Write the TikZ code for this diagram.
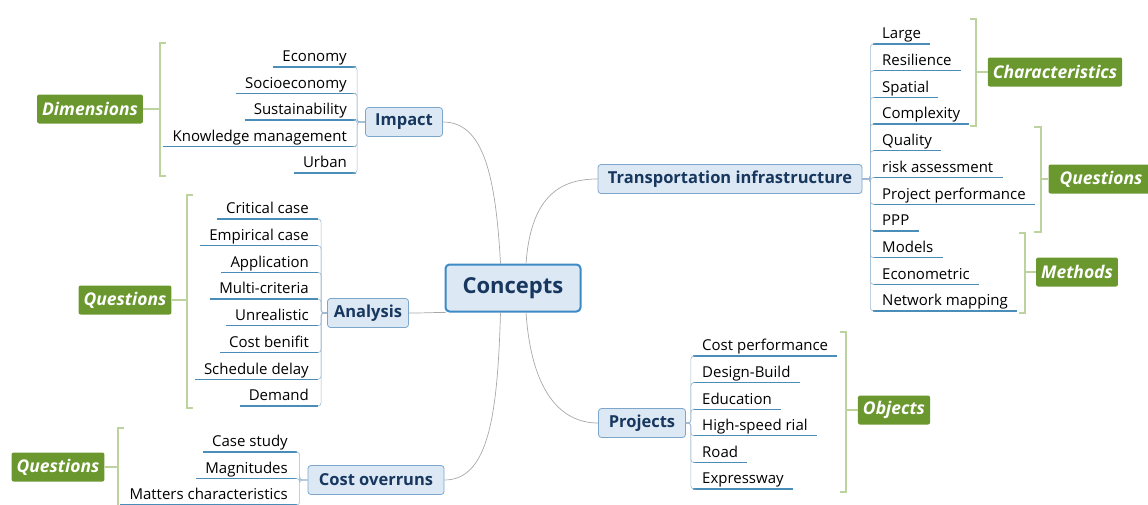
\documentclass[tikz,border=0pt]{standalone}
\usepackage{fontspec}
\setmainfont{Open Sans}
\usetikzlibrary{positioning}
\definecolor{topicfill}{HTML}{DCE8F4}
\definecolor{topicline}{HTML}{7DA6CC}
\definecolor{topictext}{HTML}{17375E}
\definecolor{rootline}{HTML}{3D8BC6}
\definecolor{leafline}{HTML}{4A8DB8}
\definecolor{tagfill}{HTML}{6A982E}
\definecolor{bracketcol}{HTML}{BCD3A0}
\definecolor{twigcol}{HTML}{9DB8CF}
\definecolor{curvecol}{HTML}{A8A8A8}
\tikzset{
	root/.style={draw=rootline, line width=2pt, fill=topicfill, rounded corners=4pt,
		minimum width=135pt, minimum height=47pt, text=topictext,
		font=\fontsize{22}{26}\selectfont\bfseries},
	topic/.style={draw=topicline, line width=0.8pt, fill=topicfill, rounded corners=3pt,
		minimum height=29pt, inner xsep=5pt, text=topictext,
		font=\fontsize{16.5}{20}\selectfont\bfseries},
	leaf/.style={inner xsep=9pt, inner ysep=2pt, text height=11pt, text depth=3pt,
		font=\fontsize{15}{18}\selectfont},
	uline/.style={draw=leafline, line width=1.3pt},
	twig/.style={draw=twigcol, line width=0.6pt, rounded corners=3pt},
	branch/.style={draw=curvecol, line width=0.7pt},
	tag/.style={fill=tagfill, rounded corners=2pt, minimum height=29pt, inner xsep=5pt,
		text=white, font=\fontsize{17.5}{20}\selectfont\bfseries\itshape},
	bracket/.style={draw=bracketcol, line width=1.6pt}
}

\begin{document}
\begin{tikzpicture}[x=1pt, y=-1pt]
	%\draw[help lines] (0,0) grid (1148,504);
	\clip (0,0) rectangle (1148,504);

	\node[root] (con) at (513,288) {Concepts};

	\node[topic, minimum width=77pt] (imp) at (404,122) {Impact};
	\node[topic, minimum width=81pt] (ana) at (368,313) {Analysis};
	\node[topic, minimum width=136pt] (cov) at (376,480) {Cost overruns};
	\node[topic, minimum width=264pt] (tra) at (730,179) {Transportation infrastructure};
	\node[topic, minimum width=87pt] (pro) at (642,423) {Projects};

	\draw[branch] (con.117) .. controls +(-5,-90) and +(40,0) .. (imp.east);
	\draw[branch] (con.200) .. controls +(-20,0) and +(20,0) .. (ana.east);
	\draw[branch] (con.-117) .. controls +(-3,100) and +(45,0) .. (cov.east);
	\draw[branch] (con.62) .. controls +(5,-70) and +(-35,0) .. (tra.west);
	\draw[branch] (con.-62) .. controls +(5,75) and +(-40,0) .. (pro.west);

	% Impact
	\foreach \t [count=\i] in {Economy,Socioeconomy,Sustainability,Knowledge management,Urban}{
		\node[leaf, anchor=south east] (imp\i) at (356,{67+26.5*(\i-1)}) {\t};
		\draw[uline] (imp\i.south west) -- (imp\i.south east);
		\draw[twig] (imp.west) -- ++(-8,0) |- (imp\i.south east);
	}
	\node[tag] (dim) at (90,109) {Dimensions};
	\coordinate (dimb) at (160,109);
	\draw[bracket] (166,43) -- (160,43) -- (160,176) -- (166,176);
	\draw[bracket] (dim) -- (dimb);

	% Analysis
	\foreach \t [count=\i] in {Critical case,Empirical case,Application,Multi-criteria,Unrealistic,Cost benifit,Schedule delay,Demand}{
		\node[leaf, anchor=south east] (ana\i) at (318,{219+26.7*(\i-1)}) {\t};
		\draw[uline] (ana\i.south west) -- (ana\i.south east);
		\draw[twig] (ana.west) -- ++(-6,0) |- (ana\i.south east);
	}
	\node[tag] (anq) at (125,300) {Questions};
	\coordinate (anqb) at (187,300);
	\draw[bracket] (193,195) -- (187,195) -- (187,408) -- (193,408);
	\draw[bracket] (anq) -- (anqb);

	% Cost overruns
	\foreach \t [count=\i] in {Case study,Magnitudes,Matters characteristics}{
		\node[leaf, anchor=south east] (cov\i) at (297,{452+26.5*(\i-1)}) {\t};
		\draw[uline] (cov\i.south west) -- (cov\i.south east);
		\draw[twig] (cov.west) -- ++(-8,0) |- (cov\i.south east);
	}
	\node[tag] (coq) at (58,467) {Questions};
	\coordinate (coqb) at (118,467);
	\draw[bracket] (124,428) -- (118,428) -- (118,520);
	\draw[bracket] (coq) -- (coqb);

	% Transportation infrastructure
	\foreach \t [count=\i] in {Large,Resilience,Spatial,Complexity,Quality,risk assessment,Project performance,PPP,Models,Econometric,Network mapping}{
		\node[leaf, anchor=south west] (tra\i) at (873,{44+26.7*(\i-1)}) {\t};
		\draw[uline] (tra\i.south west) -- (tra\i.south east);
		\draw[twig] (tra.east) -- ++(8,0) |- (tra\i.south west);
	}
	\node[tag] (chr) at (1055,72) {Characteristics};
	\coordinate (chrb) at (976,72);
	\draw[bracket] (970,19) -- (976,19) -- (976,126) -- (970,126);
	\draw[bracket] (chrb) -- (chr);

	\node[tag, minimum width=105pt] (trq) at (1101,179) {Questions};
	\coordinate (trqb) at (1041,179);
	\draw[bracket] (1034,127) -- (1041,127) -- (1041,232) -- (1034,232);
	\draw[bracket] (trqb) -- (trq);

	\node[tag] (met) at (1077,272) {Methods};
	\coordinate (metb) at (1025,272);
	\draw[bracket] (1019,233) -- (1025,233) -- (1025,313) -- (1019,313);
	\draw[bracket] (metb) -- (met);

	% Projects
	\foreach \t [count=\i] in {Cost performance,Design-Build,Education,High-speed rial,Road,Expressway}{
		\node[leaf, anchor=south west] (pro\i) at (693,{356+26.6*(\i-1)}) {\t};
		\draw[uline] (pro\i.south west) -- (pro\i.south east);
		\draw[twig] (pro.east) -- ++(5,0) |- (pro\i.south west);
	}
	\node[tag] (obj) at (894,410) {Objects};
	\coordinate (objb) at (846,410);
	\draw[bracket] (840,332) -- (846,332) -- (846,492) -- (840,492);
	\draw[bracket] (objb) -- (obj);

\end{tikzpicture}
\end{document}
